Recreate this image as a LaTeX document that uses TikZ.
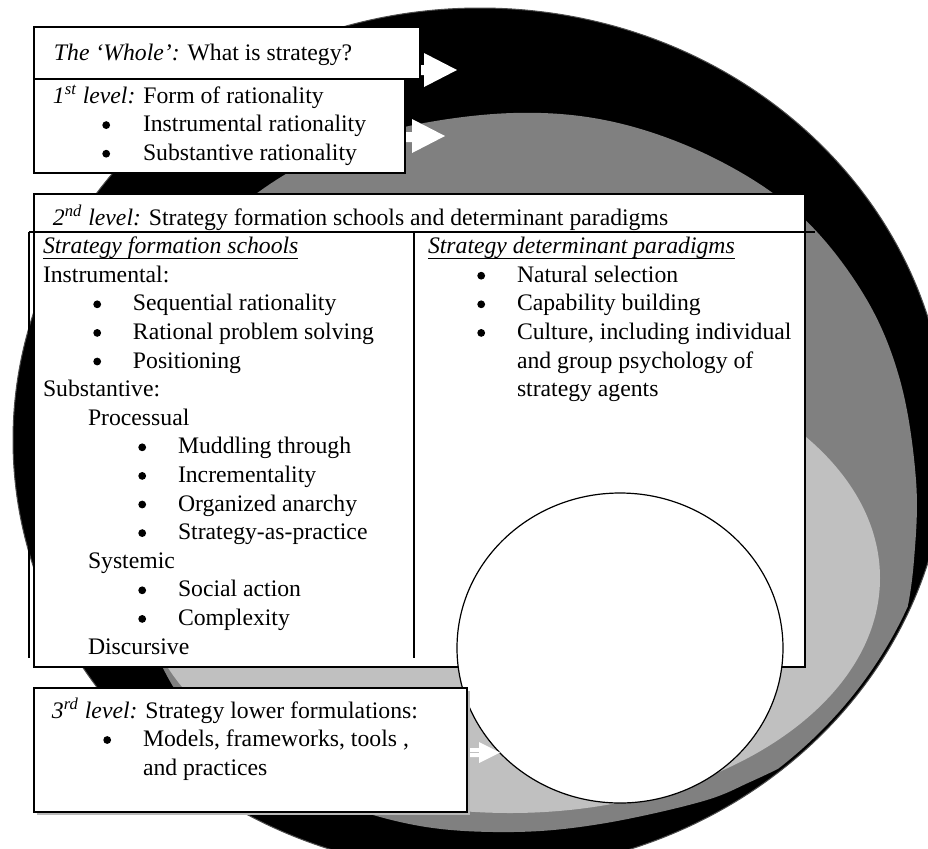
\documentclass[tikz,border=0pt]{standalone}
\usepackage{fontspec}
\setmainfont{Liberation Serif}
\definecolor{midgray}{HTML}{808080}
\definecolor{lgray}{HTML}{C0C0C0}
\newcommand\txtline[4]{\node[txt] (#1) at (#2,#3) {#4};}
\newcommand\bulletdot[3]{\node[bul] (#1) at (#2+4.2,#3-6.5) {};}
\begin{document}
\begin{tikzpicture}[x=0.5pt,y=-0.5pt,
  box/.style={draw=black,line width=0.7pt,fill=white,inner sep=0pt,outer sep=0pt,anchor=north west},
  txt/.style={anchor=base west,inner sep=0pt,outer sep=0pt,font=\fontsize{11.85}{14}\selectfont},
  bul/.style={circle,fill=black,inner sep=0pt,outer sep=0pt,minimum size=3.9pt},
  rule/.style={line width=0.7pt},
  uline/.style={line width=0.6pt},
  blockarrow/.style={fill=white}]
\useasboundingbox (0,0) rectangle (928,848);
\clip (0,0) rectangle (928,848);
% nested ellipses
\fill[black] (480,440) ellipse [x radius=233.5pt,y radius=216pt];
\draw[gray!60!black,line width=0.5pt] (480,440) ellipse [x radius=233.5pt,y radius=216pt];
\begin{scope}
\clip (480,440) ellipse [x radius=232pt,y radius=214.5pt];
\fill[midgray] plot[smooth cycle, tension=0.6] coordinates {
 (513,113) (614,122) (714,158) (800,215) (864,295) (900,380) (916,480)
 (914,560) (905,620) (890,667) (862,705) (833,732) (800,757) (750,782)
 (700,802) (600,824) (513,832) (420,826) (330,800) (250,757) (195,715)
 (160,662) (130,580) (116,480) (125,380) (164,292) (230,215) (311,160) (400,128)};
\end{scope}
\fill[lgray] (510,578) ellipse [x radius=185pt,y radius=117.5pt];
% arrows from the top boxes
\fill[blockarrow] (410,65) -- (424,65) -- (424,53) -- (457,70) -- (424,87) -- (424,75) -- (410,75) -- cycle;
\fill[blockarrow] (395,132) -- (412,132) -- (412,119) -- (445,136) -- (412,153) -- (412,142) -- (395,142) -- cycle;
% The Whole
\node[box,minimum width=193pt,minimum height=26pt] (whole) at (34,27) {};
\txtline{tw}{54}{60}{\textit{The ‘Whole’:} What is strategy?}
% 1st level
\node[box,minimum width=185.5pt,minimum height=47pt] (first) at (34,79) {};
\txtline{tf}{53}{103}{\textit{1\textsuperscript{st} level:} Form of rationality}
\bulletdot{bf1}{102}{131.6}\txtline{f1}{143}{131.6}{Instrumental rationality}
\bulletdot{bf2}{102}{160.2}\txtline{f2}{143}{160.2}{Substantive rationality}
% 2nd level
\node[box,minimum width=385.5pt,minimum height=236.5pt] (second) at (34,194) {};
\draw[rule] (29,232) -- (815,232);
\draw[rule] (29,232) -- (29,658);
\draw[rule] (414,232) -- (414,658);
\txtline{ts}{53}{225}{\textit{2\textsuperscript{nd} level:} Strategy formation schools and determinant paradigms}
% left column
\txtline{sfs}{43}{253.6}{\textit{Strategy formation schools}}
\draw[uline] ([yshift=-2.5pt]sfs.base west) -- ([yshift=-2.5pt]sfs.base east);
\txtline{ins}{43}{282.2}{Instrumental:}
\bulletdot{b1}{93}{310.8}\txtline{s1}{133}{310.8}{Sequential rationality}
\bulletdot{b2}{93}{339.4}\txtline{s2}{133}{339.4}{Rational problem solving}
\bulletdot{b3}{93}{368}\txtline{s3}{133}{368}{Positioning}
\txtline{sub}{43}{396.6}{Substantive:}
\txtline{pro}{88}{425.2}{Processual}
\bulletdot{b4}{138}{453.8}\txtline{s4}{178}{453.8}{Muddling through}
\bulletdot{b5}{138}{482.4}\txtline{s5}{178}{482.4}{Incrementality}
\bulletdot{b6}{138}{511}\txtline{s6}{178}{511}{Organized anarchy}
\bulletdot{b7}{138}{539.6}\txtline{s7}{178}{539.6}{Strategy-as-practice}
\txtline{sys}{88}{568.2}{Systemic}
\bulletdot{b8}{138}{596.8}\txtline{s8}{178}{596.8}{Social action}
\bulletdot{b9}{138}{625.4}\txtline{s9}{178}{625.4}{Complexity}
\txtline{dis}{88}{654}{Discursive}
% right column
\txtline{sdp}{428}{253.6}{\textit{Strategy determinant paradigms}}
\draw[uline] ([yshift=-2.5pt]sdp.base west) -- ([yshift=-2.5pt]sdp.base east);
\bulletdot{r1b}{477}{282.2}\txtline{r1}{517}{282.2}{Natural selection}
\bulletdot{r2b}{477}{310.8}\txtline{r2}{517}{310.8}{Capability building}
\bulletdot{r3b}{477}{339.4}\txtline{r3}{517}{339.4}{Culture, including individual}
\txtline{r4}{517}{368}{and group psychology of}
\txtline{r5}{517}{396.6}{strategy agents}
% inner white circle
\draw[fill=white,line width=0.6pt] (620,648) ellipse [x radius=81.5pt,y radius=77.5pt];
% arrow from 3rd level
\fill[blockarrow] (455,748) -- (479,748) -- (479,742) -- (500,752.5) -- (479,763) -- (479,757) -- (455,757) -- cycle;
\draw[lgray,line width=0.6pt] (455,752.5) -- (479,752.5);
% 3rd level (with a slight shadow)
\fill[gray!55] (37,691) rectangle (470,815);
\node[box,minimum width=216.5pt,minimum height=62pt] (third) at (34,688) {};
\txtline{tt}{52}{718}{\textit{3\textsuperscript{rd} level:} Strategy lower formulations:}
\bulletdot{bt1}{103}{746.5}\txtline{t1}{143}{746.5}{Models, frameworks, tools ,}
\txtline{t2}{143}{775}{and practices}
\end{tikzpicture}
\end{document}
